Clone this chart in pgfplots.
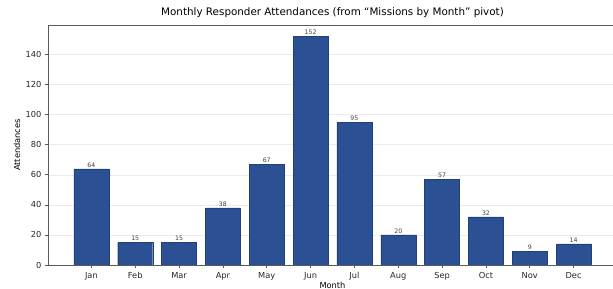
\documentclass[border=0pt]{standalone}
\usepackage{pgfplots}
\pgfplotsset{compat=1.18}
\usepackage{fontspec}
\setmainfont{DejaVu Sans}
\definecolor{barblue}{RGB}{43,80,148}
\definecolor{spine}{RGB}{90,90,90}
\begin{document}
\begin{tikzpicture}
\useasboundingbox (0,0) rectangle (613bp,289bp);
\begin{axis}[
  at={(48bp,24bp)}, anchor=south west,
  scale only axis, width=569bp, height=240bp,
  xmin=-0.99, xmax=11.99, ymin=0, ymax=159.6,
  xtick={0,...,11},
  xticklabels={Jan,Feb,Mar,Apr,May,Jun,Jul,Aug,Sep,Oct,Nov,Dec},
  ytick={0,20,...,140},
  /pgf/number format/assume math mode=true,
  ymajorgrids, grid style={black!8, line width=0.5pt},
  axis line style={spine, line width=0.7pt},
  tick style={spine, line width=0.7pt},
  tick align=outside, major tick length=3bp,
  xtick pos=lower, ytick pos=left,
  ticklabel style={font=\fontsize{8.3}{9}\selectfont, text=black!85},
  xticklabel style={yshift=-1bp},
  ybar, bar width=35bp,
  nodes near coords,
  nodes near coords style={font=\fontsize{6.2}{7}\selectfont, text=black!75, inner sep=1.5bp},
  title={Monthly Responder Attendances (from “Missions by Month” pivot)},
  title style={font=\fontsize{10.4}{12}\selectfont, at={(0.5,1)}, anchor=base, yshift=3.5bp, inner sep=0pt},
  xlabel={Month}, ylabel={Attendances},
  every axis x label/.style={at={(axis description cs:0.5,-0.083)}, anchor=center, font=\fontsize{8.3}{9}\selectfont},
  every axis y label/.style={at={(axis description cs:-0.0545,0.5)}, rotate=90, anchor=center, font=\fontsize{8.3}{9}\selectfont},
]
\addplot[fill=barblue, draw=barblue!80!black, line width=0.3pt] coordinates {
  (0,64) (1,15) (2,15) (3,38) (4,67) (5,152) (6,95) (7,20) (8,57) (9,32) (10,9) (11,14)
};
\end{axis}
\end{tikzpicture}
\end{document}
